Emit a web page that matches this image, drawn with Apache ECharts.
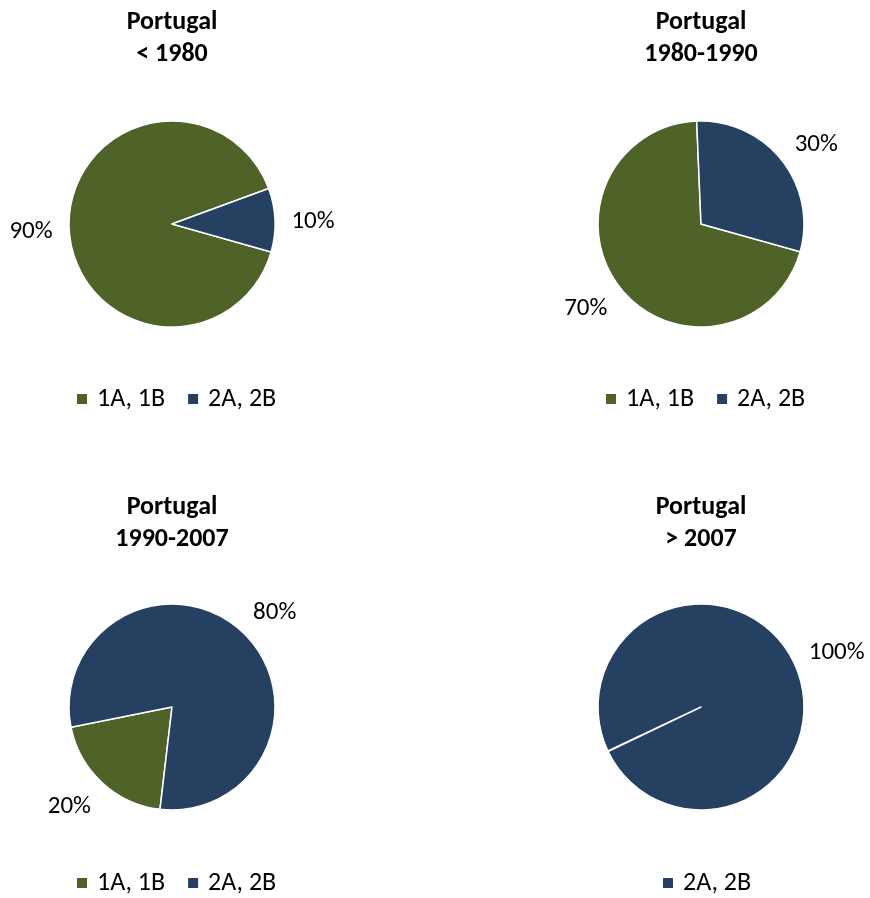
<!DOCTYPE html>
<html><head><meta charset="utf-8">
<script src="https://cdn.jsdelivr.net/npm/echarts@6/dist/echarts.min.js"></script>
<style>html,body{margin:0;padding:0;background:#fff}#c{width:870px;height:898px}</style>
</head><body><div id="c"></div>
<script>
const categories = ['1A, 1B', '2A, 2B'];
const titles = ['Portugal\n< 1980', 'Portugal\n1980-1990', 'Portugal\n1990-2007', 'Portugal\n> 2007'];
const share1 = [90, 10];
const share2 = [70, 30];
const share3 = [20, 80];
const share4 = [0, 100];
const legendItems = [categories, categories, categories, ['2A, 2B']];

const colors = ['#4F6228', '#254061'];
const FONT = 'Carlito, Lato, "Liberation Sans", sans-serif';
const centers = [[172, 224], [701, 224], [172, 707], [701, 707]];
const R = 103;
const titleTop = [6, 6, 491, 491];
const startAngles = [-15.8, -15.6, -96.7, -154.4];
const legendLeft = [75, 604, 75, 661];
const legendTop = [386, 386, 870, 870];
const shares = [share1, share2, share3, share4];
const LABEL_SIZE = 25;
const LABEL_GAP = 16.5;
const LABEL_BASELINE_SHIFT = 2.5;

// Excel-like outside label placement around the mid-angle ray of each slice
function midDir(si, di) {
  const vals = shares[si];
  const sum = vals.reduce((a, b) => a + b, 0);
  let cum = 0;
  for (let k = 0; k < di; k++) cum += vals[k];
  const ang = (startAngles[si] - (cum + vals[di] / 2) / sum * 360) * Math.PI / 180;
  return [Math.cos(ang), -Math.sin(ang)];
}

const chart = echarts.init(document.getElementById('c'), null, {renderer: 'canvas'});
const option = {
  animation: false,
  color: colors,
  title: titles.map((t, i) => ({
    text: t, left: centers[i][0], top: titleTop[i], textAlign: 'center', padding: 0,
    textStyle: {fontFamily: FONT, fontSize: 26, fontWeight: 'bold', color: '#000', lineHeight: 32}
  })),
  legend: legendItems.map((d, i) => ({
    data: d, left: legendLeft[i], top: legendTop[i], orient: 'horizontal', padding: 0,
    itemWidth: 12, itemHeight: 12, itemGap: 21, icon: 'rect',
    selectedMode: false,
    textStyle: {fontFamily: FONT, fontSize: 26, color: '#000', padding: [0, 0, 0, 4]}
  })),
  series: shares.map((vals, i) => ({
    type: 'pie',
    center: centers[i],
    radius: R,
    startAngle: startAngles[i],
    clockwise: true,
    avoidLabelOverlap: false,
    minAngle: vals.some(v => v === 0) ? 0.3 : 0,
    itemStyle: {borderColor: '#fff', borderWidth: 1.5},
    label: {show: true, position: 'outside', formatter: '{c}%', fontFamily: FONT, fontSize: LABEL_SIZE, color: '#000'},
    labelLine: {show: false, length: 10, length2: 0},
    labelLayout: function (p) {
      const [dx, dy] = midDir(p.seriesIndex, p.dataIndex);
      const w = p.labelRect.width / 2, h = LABEL_SIZE / 2;
      const c = centers[p.seriesIndex];
      const d = R + LABEL_GAP;
      return {
        x: c[0] + dx * d + (dx >= 0 ? w : -w),
        y: c[1] + dy * d + h * dy + LABEL_BASELINE_SHIFT,
        align: 'center', verticalAlign: 'middle'
      };
    },
    emphasis: {disabled: true},
    data: categories.map((c, k) => ({
      name: c, value: vals[k],
      itemStyle: {color: vals[k] > 0 ? colors[k] : colors[1 - k]},
      label: {show: vals[k] > 0}
    }))
  }))
};
chart.setOption(option);
</script></body></html>
